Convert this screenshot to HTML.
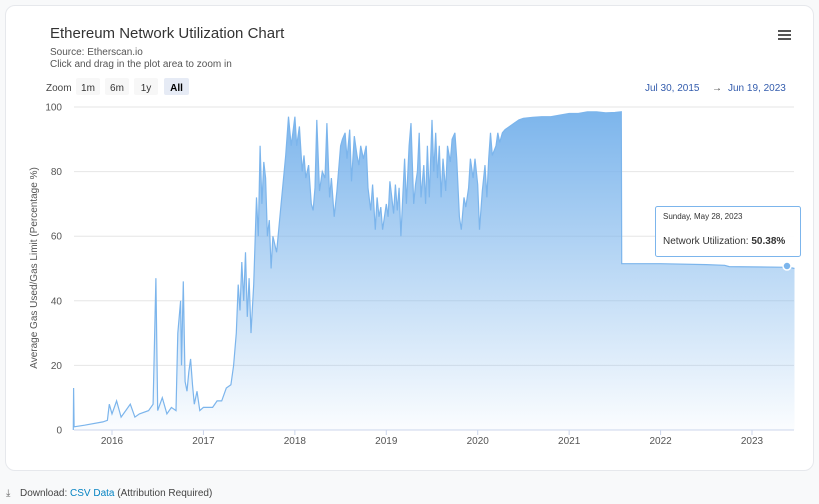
<!DOCTYPE html>
<html><head><meta charset="utf-8">
<style>
body{margin:0;width:819px;height:504px;background:#f8f9fa;font-family:"Liberation Sans",sans-serif;overflow:hidden;position:relative}
.card{position:absolute;left:5px;top:5px;width:807px;height:464px;background:#fff;border:1px solid #e6e8ec;border-radius:10px}
svg{position:absolute;left:0;top:0}
</style></head><body>
<div class="card"></div>
<svg id="c" width="819" height="504">
<defs><linearGradient id="g" x1="0" y1="0" x2="0" y2="1">
<stop offset="0" stop-color="#7cb5ec" stop-opacity="1"/><stop offset="1" stop-color="#7cb5ec" stop-opacity="0.03"/></linearGradient></defs>
<text x="50" y="38" font-size="15" fill="#333">Ethereum Network Utilization Chart</text>
<text x="50" y="55" font-size="10" fill="#555">Source: Etherscan.io</text>
<text x="50" y="67" font-size="10" fill="#555">Click and drag in the plot area to zoom in</text>
<g><rect x="778" y="30" width="13" height="2" fill="#555"/><rect x="778" y="34" width="13" height="2" fill="#555"/><rect x="778" y="38" width="13" height="2" fill="#555"/></g>
<text x="46" y="91" font-size="10" fill="#444">Zoom</text>
<g><rect x="76" y="78" width="24" height="17" fill="#f7f7f7" rx="2"/><text x="88" y="91" font-size="10" text-anchor="middle" fill="#333">1m</text></g>
<g><rect x="105" y="78" width="24" height="17" fill="#f7f7f7" rx="2"/><text x="117" y="91" font-size="10" text-anchor="middle" fill="#333">6m</text></g>
<g><rect x="134" y="78" width="24" height="17" fill="#f7f7f7" rx="2"/><text x="146" y="91" font-size="10" text-anchor="middle" fill="#333">1y</text></g>
<g><rect x="164" y="78" width="25" height="17" fill="#e6ebf5" rx="2"/><text x="176.5" y="91" font-size="10" text-anchor="middle" fill="#000" font-weight="bold">All</text></g>
<text x="645" y="91" font-size="10" fill="#335cad">Jul 30, 2015</text>
<text x="712" y="91" font-size="10" fill="#444">→</text>
<text x="728" y="91" font-size="10" fill="#335cad">Jun 19, 2023</text>
<text transform="translate(37,268) rotate(-90)" font-size="10" fill="#555" text-anchor="middle">Average Gas Used/Gas Limit (Percentage %)</text>
<g id="grid"></g><g id="series"></g><g id="xaxis"></g>
<g>
<rect x="655.5" y="206.5" width="145" height="50" fill="#fff" fill-opacity="0.95" stroke="#7cb5ec" rx="2"/>
<text x="663" y="219" font-size="8" fill="#333">Sunday, May 28, 2023</text>
<text x="663" y="244" font-size="10" fill="#333">Network Utilization: <tspan font-weight="bold">50.38%</tspan></text>
</g>
<circle cx="787" cy="266" r="4" fill="#7cb5ec" stroke="#fff" stroke-width="1.5"/>
<g><text x="6" y="496" font-size="10" fill="#666">⤓</text><text x="20" y="496" font-size="10" fill="#444">Download: <tspan fill="#0784c3">CSV Data</tspan> (Attribution Required)</text></g>
</svg>
<script>
const dates=[2015.577,2015.58,2015.585,2015.7,2015.9,2015.95,2015.97,2016.0,2016.05,2016.1,2016.2,2016.25,2016.3,2016.4,2016.45,2016.48,2016.5,2016.55,2016.6,2016.65,2016.7,2016.72,2016.75,2016.76,2016.78,2016.8,2016.82,2016.84,2016.86,2016.88,2016.9,2016.93,2016.96,2017.0,2017.1,2017.15,2017.2,2017.25,2017.3,2017.33,2017.36,2017.38,2017.4,2017.42,2017.44,2017.46,2017.48,2017.5,2017.52,2017.55,2017.58,2017.6,2017.62,2017.64,2017.66,2017.68,2017.7,2017.72,2017.74,2017.76,2017.8,2017.85,2017.9,2017.93,2017.96,2018.0,2018.02,2018.05,2018.08,2018.1,2018.12,2018.15,2018.18,2018.2,2018.22,2018.24,2018.27,2018.3,2018.33,2018.35,2018.38,2018.4,2018.43,2018.46,2018.5,2018.52,2018.55,2018.57,2018.6,2018.62,2018.65,2018.68,2018.7,2018.72,2018.75,2018.78,2018.8,2018.83,2018.85,2018.88,2018.9,2018.92,2018.94,2018.96,2019.0,2019.02,2019.04,2019.06,2019.08,2019.1,2019.12,2019.14,2019.16,2019.2,2019.22,2019.25,2019.27,2019.3,2019.32,2019.34,2019.36,2019.38,2019.41,2019.43,2019.45,2019.47,2019.5,2019.52,2019.54,2019.56,2019.58,2019.6,2019.62,2019.65,2019.67,2019.7,2019.72,2019.75,2019.77,2019.8,2019.82,2019.85,2019.87,2019.9,2019.92,2019.95,2019.97,2020.0,2020.02,2020.05,2020.08,2020.1,2020.12,2020.14,2020.16,2020.2,2020.22,2020.24,2020.27,2020.3,2020.35,2020.4,2020.45,2020.5,2020.6,2020.7,2020.8,2020.9,2021.0,2021.1,2021.2,2021.3,2021.4,2021.5,2021.57,2021.575,2022.0,2022.5,2022.7,2022.75,2023.0,2023.3,2023.41,2023.465];
const util=[0,13,1,1.5,2.5,3,8,5,9,4,8,4,5,6,8,47,6,10,5,7,6,30,40,20,46,15,12,18,22,14,8,12,6,7,7,9,9,13,14,20,30,45,37,52,40,55,35,47,30,45,72,60,88,70,83,78,60,65,50,60,55,70,85,97,88,97,88,94,80,85,78,82,70,68,75,96,74,80,78,95,72,78,66,74,88,90,92,84,93,77,91,85,82,88,84,88,75,68,76,62,72,66,69,62,70,66,77,72,67,76,68,75,60,84,70,88,95,70,76,80,92,72,82,70,88,72,96,80,92,78,88,72,84,74,88,83,90,92,84,66,62,72,69,75,84,78,84,76,62,74,82,72,84,92,85,88,92,89,92,93,94,95,96,96.5,96.8,97,97,97.5,98,98,98.5,98.5,98.2,98.3,98.5,51.5,51.5,51.2,51,50.6,50.5,50.4,50.38,50];
const yTicks=[0,20,40,60,80,100];
const xTicks=[2016,2017,2018,2019,2020,2021,2022,2023];
const NS="http://www.w3.org/2000/svg";
const X=t=>112+(t-2016)*91.43, Y=v=>430-v*3.23;
const mk=(tag,attrs,parent)=>{const e=document.createElementNS(NS,tag);for(const k in attrs)e.setAttribute(k,attrs[k]);parent.appendChild(e);return e;};
const grid=document.getElementById('grid'),ser=document.getElementById('series'),xa=document.getElementById('xaxis');
yTicks.forEach(v=>{
 const l=mk('line',{x1:74,x2:794,y1:Y(v),y2:Y(v),stroke:v===0?'#ccd6eb':'#e6e6e6'},grid);
 
 
 const t=mk('text',{x:62,y:Y(v)+3.5,'font-size':10,fill:'#555','text-anchor':'end'},grid);t.textContent=v;
 
 
});
xTicks.forEach(y=>{
 const l=mk('line',{x1:X(y),x2:X(y),y1:430,y2:435,stroke:'#ccd6eb'},xa);
 
 
 const t=mk('text',{x:X(y),y:444,'font-size':10,fill:'#555','text-anchor':'middle'},xa);t.textContent=y;
 
 
});
let d='';dates.forEach((t,i)=>{d+=(i?'L':'M')+X(t).toFixed(1)+','+Y(util[i]).toFixed(1);});
const area=mk('path',{d:d+'L'+X(dates[dates.length-1]).toFixed(1)+',430L'+X(dates[0]).toFixed(1)+',430Z',fill:'url(#g)',stroke:'none'},ser);


const line=mk('path',{d:d,fill:'none',stroke:'#7cb5ec','stroke-width':1.2},ser);


</script>
</body></html>
